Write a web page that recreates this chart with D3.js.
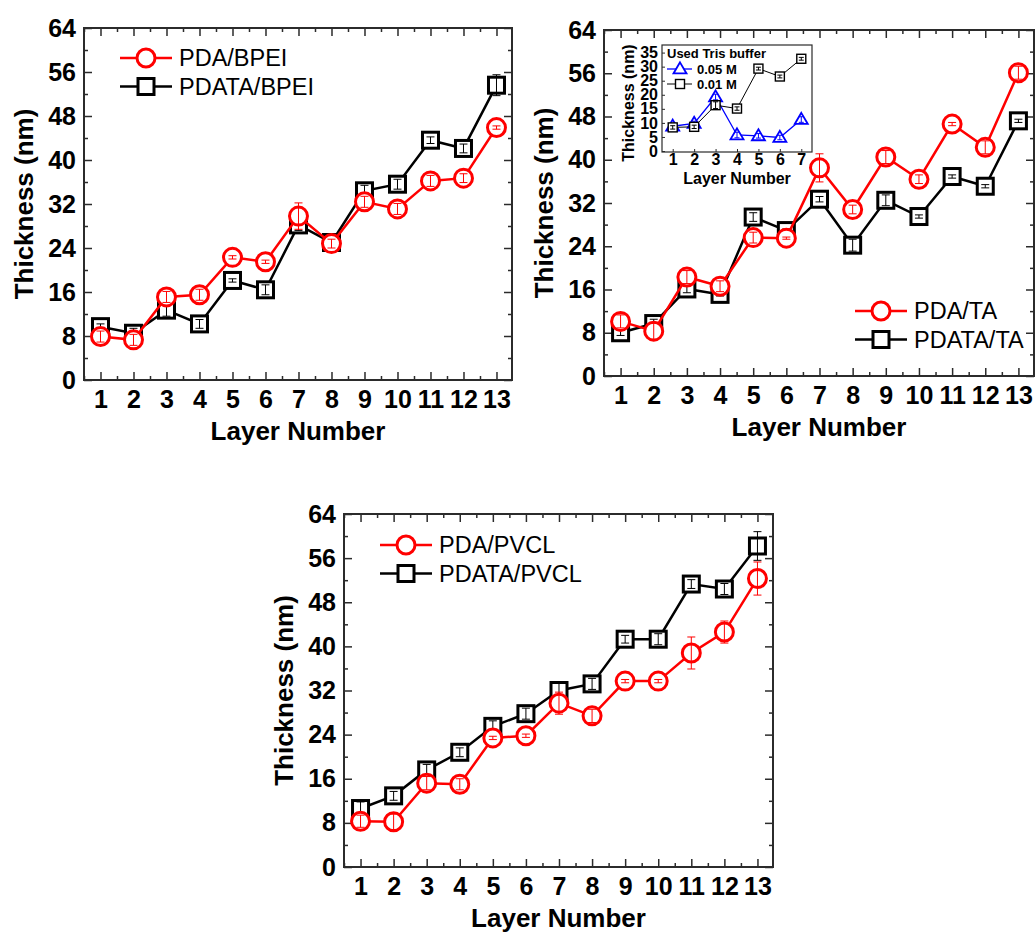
<!DOCTYPE html>
<html>
<head>
<meta charset="utf-8">
<script src="https://cdn.jsdelivr.net/npm/d3@7"></script>
<style>
body { margin: 0; background: #fff; }
svg text { font-family: "Liberation Sans", Arial, sans-serif; }
</style>
</head>
<body>
<div id="chart"></div>
<script>
// Categories and ticks
const layers = [1, 2, 3, 4, 5, 6, 7, 8, 9, 10, 11, 12, 13];
const halfLayers = [0.5, 1.5, 2.5, 3.5, 4.5, 5.5, 6.5, 7.5, 8.5, 9.5, 10.5, 11.5, 12.5];
const thickTicks = [0, 8, 16, 24, 32, 40, 48, 56, 64];
const thickMinor = [4, 12, 20, 28, 36, 44, 52, 60];

// PDA/BPEI vs PDATA/BPEI
const bpeiPDA = [7.9, 7.3, 15.1, 15.5, 22.3, 21.5, 29.8, 24.8, 32.4, 31.1, 36.2, 36.7, 45.9];
const bpeiPDAErr = [1.0, 1.0, 1.0, 1.0, 0.3, 0.3, 2.4, 0.8, 1.0, 1.0, 1.0, 0.8, 0.3];
const bpeiPDATA = [9.7, 8.5, 12.7, 10.2, 18.1, 16.4, 28.2, 25.0, 34.4, 35.6, 43.6, 42.1, 53.6];
const bpeiPDATAErr = [0.5, 0.9, 1.1, 0.8, 0.3, 0.9, 1.0, 1.0, 1.0, 0.9, 0.6, 0.8, 1.9];

// PDA/TA vs PDATA/TA
const taPDA = [10.1, 8.3, 18.3, 16.6, 25.6, 25.5, 38.5, 30.8, 40.5, 36.4, 46.6, 42.3, 56.1];
const taPDAErr = [1.2, 1.5, 1.2, 1.0, 1.0, 0.2, 2.6, 0.8, 1.2, 0.8, 0.3, 1.2, 1.2];
const taPDATA = [8.0, 9.7, 16.1, 15.1, 29.4, 26.9, 32.7, 24.2, 32.5, 29.5, 36.9, 35.1, 47.2];
const taPDATAErr = [0.5, 0.8, 0.7, 0.3, 0.8, 0.3, 0.5, 1.1, 1.0, 0.3, 0.3, 0.3, 0.3];

// PDA/PVCL vs PDATA/PVCL
const pvclPDA = [8.3, 8.2, 15.2, 15.0, 23.4, 23.8, 29.7, 27.4, 33.7, 33.7, 38.8, 42.6, 52.3];
const pvclPDAErr = [1.1, 1.4, 1.2, 1.0, 0.3, 0.3, 2.0, 1.2, 0.3, 0.3, 2.9, 2.0, 3.0];
const pvclPDATA = [10.6, 12.9, 17.6, 20.8, 25.5, 27.8, 32.0, 33.2, 41.3, 41.3, 51.3, 50.4, 58.2];
const pvclPDATAErr = [1.2, 0.8, 1.0, 0.8, 1.0, 1.0, 1.5, 1.0, 0.7, 1.0, 0.8, 1.0, 2.6];

// Inset: Tris buffer concentration
const insetLayers = [1, 2, 3, 4, 5, 6, 7];
const insetTicks = [0, 5, 10, 15, 20, 25, 30, 35];
const tris005 = [8.8, 9.8, 19.2, 5.7, 5.4, 4.8, 11.2];
const tris005Err = [1.0, 0.8, 1.0, 1.0, 0.8, 0.8, 1.0];
const tris001 = [8.4, 8.6, 16.3, 15.1, 29.3, 26.5, 32.8];
const tris001Err = [0.6, 0.6, 1.2, 0.6, 0.5, 0.5, 0.5];

const svg = d3.select("#chart")
    .append("svg")
    .attr("width", 1035)
    .attr("height", 933);

const RED = "#ff0000";
const BLUE = "#0000ff";
const FRAME = "#2b2b2b";
const intFmt = d3.format("d");

function drawMarker(g, shape, cx, cy, size, color, sw) {
    if (shape === "circle") {
        g.append("circle").attr("cx", cx).attr("cy", cy).attr("r", size)
            .attr("fill", "white").attr("stroke", color).attr("stroke-width", sw);
    } else if (shape === "square") {
        g.append("rect").attr("x", cx - size).attr("y", cy - size)
            .attr("width", size * 2).attr("height", size * 2)
            .attr("fill", "white").attr("stroke", color).attr("stroke-width", sw);
    } else {
        const h = size * 1.7;
        g.append("path")
            .attr("d", `M${cx},${cy - h * 0.6}L${cx + size},${cy + h * 0.4}L${cx - size},${cy + h * 0.4}Z`)
            .attr("fill", "white").attr("stroke", color).attr("stroke-width", sw);
    }
}

function drawSeries(g, x, y, xs, vals, errs, s) {
    const line = d3.line().x((d, i) => x(xs[i])).y(d => y(d));
    g.append("path")
        .datum(vals)
        .attr("fill", "none")
        .attr("stroke", s.color)
        .attr("stroke-width", s.lineWidth)
        .attr("d", line);

    vals.forEach((v, i) => drawMarker(g, s.shape, x(xs[i]), y(v), s.size, s.color, s.markerWidth));

    // error bars on top of the hollow markers
    vals.forEach((v, i) => {
        const cx = x(xs[i]);
        const y1 = y(v - errs[i]), y2 = y(v + errs[i]);
        g.append("line").attr("x1", cx).attr("x2", cx).attr("y1", y1).attr("y2", y2)
            .attr("stroke", s.color).attr("stroke-width", 1);
        [y1, y2].forEach(yy => {
            g.append("line").attr("x1", cx - s.cap).attr("x2", cx + s.cap)
                .attr("y1", yy).attr("y2", yy)
                .attr("stroke", s.color).attr("stroke-width", 1);
        });
    });
}

function styleAxis(a, size) {
    a.select(".domain").remove();
    a.selectAll("line").attr("stroke", FRAME).attr("stroke-width", 1.5);
    a.selectAll("text")
        .attr("fill", "black")
        .style("font-family", "'Liberation Sans', Arial, sans-serif")
        .style("font-weight", "bold")
        .style("font-size", size + "px");
}

function drawPanel(p) {
    const x = d3.scaleLinear().domain([0.5, 13.47]).range([p.left, p.right]);
    const y = d3.scaleLinear().domain([0, 64]).range([p.bottom, p.top]);
    const g = svg.append("g");

    // Axes: major and minor ticks on all four sides, pointing inward
    styleAxis(g.append("g").attr("transform", `translate(0,${p.bottom})`)
        .call(d3.axisBottom(x).tickValues(layers).tickFormat(intFmt).tickSize(-8).tickPadding(10)), 25);
    styleAxis(g.append("g").attr("transform", `translate(0,${p.bottom})`)
        .call(d3.axisBottom(x).tickValues(halfLayers).tickSize(-4).tickFormat("")), 25);
    styleAxis(g.append("g").attr("transform", `translate(0,${p.top})`)
        .call(d3.axisTop(x).tickValues(layers).tickSize(-8).tickFormat("")), 25);
    styleAxis(g.append("g").attr("transform", `translate(0,${p.top})`)
        .call(d3.axisTop(x).tickValues(halfLayers).tickSize(-4).tickFormat("")), 25);
    styleAxis(g.append("g").attr("transform", `translate(${p.left},0)`)
        .call(d3.axisLeft(y).tickValues(thickTicks).tickFormat(intFmt).tickSize(-8).tickPadding(8)), 25);
    styleAxis(g.append("g").attr("transform", `translate(${p.left},0)`)
        .call(d3.axisLeft(y).tickValues(thickMinor).tickSize(-4).tickFormat("")), 25);
    styleAxis(g.append("g").attr("transform", `translate(${p.right},0)`)
        .call(d3.axisRight(y).tickValues(thickTicks).tickSize(-8).tickFormat("")), 25);
    styleAxis(g.append("g").attr("transform", `translate(${p.right},0)`)
        .call(d3.axisRight(y).tickValues(thickMinor).tickSize(-4).tickFormat("")), 25);

    g.append("rect")
        .attr("x", p.left).attr("y", p.top)
        .attr("width", p.right - p.left).attr("height", p.bottom - p.top)
        .attr("fill", "none").attr("stroke", FRAME).attr("stroke-width", 2);

    // Axis titles
    g.append("text")
        .attr("x", (p.left + p.right) / 2)
        .attr("y", p.bottom + 60)
        .attr("text-anchor", "middle")
        .style("font-weight", "bold").style("font-size", "26px")
        .text("Layer Number");

    g.append("text")
        .attr("transform", `translate(${p.left - 51},${(p.top + p.bottom) / 2}) rotate(-90)`)
        .attr("text-anchor", "middle")
        .style("font-weight", "bold").style("font-size", "26px")
        .text("Thickness (nm)");

    if (p.inset) drawInset();

    const redStyle = {color: RED, shape: "circle", size: 9, lineWidth: 2.5, markerWidth: 3, cap: 4};
    const blackStyle = {color: "black", shape: "square", size: 8, lineWidth: 2.5, markerWidth: 3, cap: 4};

    drawSeries(g, x, y, layers, p.black, p.blackErr, blackStyle);
    drawSeries(g, x, y, layers, p.red, p.redErr, redStyle);

    // Legend
    const entries = [
        {name: p.names[0], style: redStyle},
        {name: p.names[1], style: blackStyle}
    ];
    entries.forEach((e, i) => {
        const ly = p.legend.y + i * 28.5;
        g.append("line")
            .attr("x1", p.legend.x).attr("x2", p.legend.x + 52)
            .attr("y1", ly).attr("y2", ly)
            .attr("stroke", e.style.color).attr("stroke-width", 2.5);
        drawMarker(g, e.style.shape, p.legend.x + 26, ly, e.style.size, e.style.color, 3);
        g.append("text")
            .attr("x", p.legend.x + 59)
            .attr("y", ly)
            .attr("dy", "0.36em")
            .style("font-size", "23.5px")
            .text(e.name);
    });
}

function drawInset() {
    const b = {left: 662, top: 45, right: 812, bottom: 152};
    const x = d3.scaleLinear().domain([0.5, 7.5]).range([b.left, b.right]);
    const y = d3.scaleLinear().domain([-0.35, 37.7]).range([b.bottom, b.top]);
    const g = svg.append("g");

    g.append("rect")
        .attr("x", b.left).attr("y", b.top)
        .attr("width", b.right - b.left).attr("height", b.bottom - b.top)
        .attr("fill", "white");

    const ax = g.append("g").attr("transform", `translate(0,${b.bottom})`)
        .call(d3.axisBottom(x).tickValues(insetLayers).tickFormat(intFmt).tickSize(-3).tickPadding(2));
    styleAxis(ax, 16);
    const ay = g.append("g").attr("transform", `translate(${b.left},0)`)
        .call(d3.axisLeft(y).tickValues(insetTicks).tickFormat(intFmt).tickSize(-3).tickPadding(4));
    styleAxis(ay, 16);
    ay.selectAll("line").attr("stroke-width", 1);
    ax.selectAll("line").attr("stroke-width", 1);

    g.append("rect")
        .attr("x", b.left).attr("y", b.top)
        .attr("width", b.right - b.left).attr("height", b.bottom - b.top)
        .attr("fill", "none").attr("stroke", FRAME).attr("stroke-width", 1.2);

    g.append("text")
        .attr("x", (b.left + b.right) / 2).attr("y", 184)
        .attr("text-anchor", "middle")
        .style("font-weight", "bold").style("font-size", "16px")
        .text("Layer Number");
    g.append("text")
        .attr("transform", `translate(${b.left - 28.5},103) rotate(-90)`)
        .attr("text-anchor", "middle")
        .style("font-weight", "bold").style("font-size", "16px")
        .text("Thickness (nm)");

    const blueStyle = {color: BLUE, shape: "triangle", size: 6.5, lineWidth: 1.3, markerWidth: 1.8, cap: 2.5};
    const blackStyle = {color: "black", shape: "square", size: 4.5, lineWidth: 1, markerWidth: 1.4, cap: 2.5};
    drawSeries(g, x, y, insetLayers, tris005, tris005Err, blueStyle);
    drawSeries(g, x, y, insetLayers, tris001, tris001Err, blackStyle);

    g.append("text")
        .attr("x", 667).attr("y", 58)
        .style("font-weight", "bold").style("font-size", "13px")
        .text("Used Tris buffer");
    [{name: "0.05 M", style: blueStyle, y: 69}, {name: "0.01 M", style: blackStyle, y: 84}].forEach(e => {
        g.append("line")
            .attr("x1", 667).attr("x2", 692)
            .attr("y1", e.y).attr("y2", e.y)
            .attr("stroke", e.style.color).attr("stroke-width", e.style.lineWidth);
        drawMarker(g, e.style.shape, 680, e.y, e.style.size, e.style.color, e.style.markerWidth);
        g.append("text")
            .attr("x", 697).attr("y", e.y).attr("dy", "0.36em")
            .style("font-weight", "bold").style("font-size", "13px")
            .text(e.name);
    });
}

drawPanel({
    left: 84, top: 28, right: 512, bottom: 380,
    red: bpeiPDA, redErr: bpeiPDAErr, black: bpeiPDATA, blackErr: bpeiPDATAErr,
    names: ["PDA/BPEI", "PDATA/BPEI"],
    legend: {x: 120, y: 58}
});

drawPanel({
    left: 604, top: 30, right: 1034, bottom: 376,
    red: taPDA, redErr: taPDAErr, black: taPDATA, blackErr: taPDATAErr,
    names: ["PDA/TA", "PDATA/TA"],
    legend: {x: 855, y: 311},
    inset: true
});

drawPanel({
    left: 344, top: 514, right: 773, bottom: 867,
    red: pvclPDA, redErr: pvclPDAErr, black: pvclPDATA, blackErr: pvclPDATAErr,
    names: ["PDA/PVCL", "PDATA/PVCL"],
    legend: {x: 380, y: 545}
});
</script>
</body>
</html>
